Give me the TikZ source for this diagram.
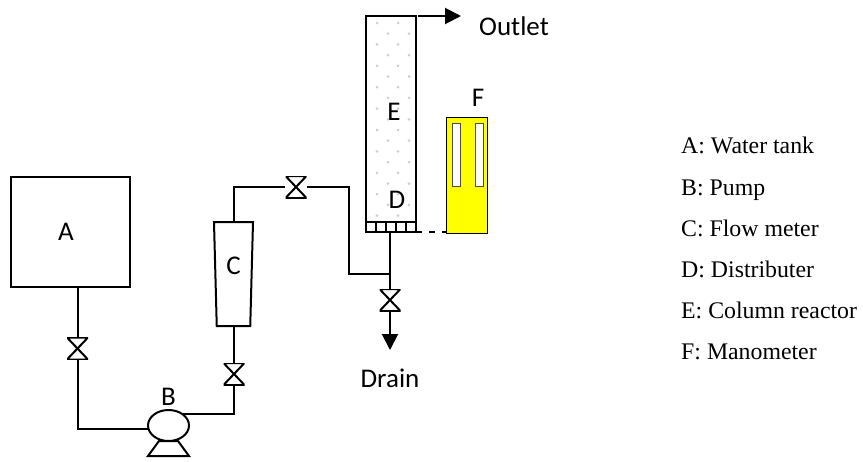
\documentclass[tikz,border=0pt]{standalone}
\usepackage{fontspec}
\setmainfont{Liberation Serif}
\newfontfamily\labelfont{Carlito}
\usetikzlibrary{calc,arrows.meta,shapes.geometric}
\definecolor{manoyellow}{HTML}{FFFF00}
\definecolor{packdot}{HTML}{CFCFCF}
\tikzset{
  pipe/.style={line width=2pt},
  unitbox/.style={draw, line width=2pt, inner sep=0pt, outer sep=0pt},
  taper/.style={draw, line width=2pt, trapezium, inner sep=1pt, outer sep=0pt, trapezium stretches=true},
  valve/.style={minimum width=21pt, minimum height=22pt, inner sep=0pt,
    path picture={\draw[line width=2pt]
      (path picture bounding box.north west) -- (path picture bounding box.north east)
      -- (path picture bounding box.south west) -- (path picture bounding box.south east)
      -- cycle;}},
  unitlabel/.style={font=\labelfont\fontsize{27}{27}\selectfont, inner sep=0pt},
  legendlabel/.style={font=\fontsize{23.8}{26}\selectfont, anchor=base west, inner sep=0pt},
  flowtip/.style={-{Triangle[length=16pt,width=16pt]}}
}
\begin{document}
\begin{tikzpicture}[x=1pt,y=-1pt]
  \useasboundingbox (0,0) rectangle (863,461);
  \node[unitbox, minimum width=119pt, minimum height=110pt] (tank) at (70.5,232) {};
  \node[valve] (valveA) at (77.5,348.5) {};
  \node[unitbox, ellipse, minimum width=41pt, minimum height=31pt] (pump) at (168.5,425.5) {};
  \node[taper, trapezium left angle=60, trapezium right angle=60,
    minimum width=41pt, minimum height=15pt] (pumpbase) at (168.5,448.5) {};
  \node[valve] (valveB) at (234,374) {};
  \node[taper, shape border rotate=180, trapezium left angle=85.3, trapezium right angle=85.3,
    minimum width=39pt, minimum height=104pt] (meter) at (233.5,274) {};
  \node[valve] (valveC) at (296,187) {};
  \node[unitbox, minimum width=50pt, minimum height=216pt] (column) at (391,124) {};
  \foreach \row in {0,...,19}{
    \pgfmathsetmacro{\dotshift}{mod(\row,2)*11}
    \foreach \col in {0,1}{
      \fill[packdot] (377+\dotshift+21*\col,23+10.7*\row) circle (1.5pt);
    }
  }
  \node[unitbox, fill=white, minimum width=50pt, minimum height=10pt] (distributer) at (391,227) {};
  \foreach \tick in {1,...,4}{
    \draw[pipe] ($(distributer.north west)+(10*\tick,0)$) -- ($(distributer.south west)+(10*\tick,0)$);
  }
  \node[draw, line width=1pt, outer sep=0pt, fill=manoyellow, minimum width=41pt, minimum height=116pt, inner sep=0pt] (manometer) at (466.5,175) {};
  \node[draw=black!70, line width=1pt, fill=white, minimum width=8pt, minimum height=63pt, inner sep=0pt] (limbL) at (456,154.5) {};
  \node[draw=black!70, line width=1pt, fill=white, minimum width=8pt, minimum height=63pt, inner sep=0pt] (limbR) at (479.5,154.5) {};
  \node[valve] (valveD) at (390,300) {};
  \coordinate (outletend) at (461,16);
  \coordinate (drainend) at (390,350);
  \coordinate (teeD) at (390,274);

  \draw[pipe] (tank.south -| valveA) -- (valveA);
  \draw[pipe] (valveA) |- (pump.190);
  \draw[pipe] (pump.40) -| (valveB);
  \draw[pipe] (valveB) -- (valveB |- meter.south);
  \draw[pipe] (meter.north) |- (valveC);
  \draw[pipe] (valveC) -| (349,274) -- (teeD);
  \draw[pipe] (distributer.south -| teeD) -- (valveD);
  \draw[pipe, flowtip] (valveD) -- (drainend);
  \draw[pipe, flowtip, shorten <=2pt] (column.north east) -- (outletend);
  \draw[pipe, dash pattern=on 6pt off 7pt] (distributer.south east) -- (distributer.south east -| manometer.west);

  \node[unitlabel] (labelA) at (66,232) {A};
  \node[unitlabel] (labelB) at (168.5,397) {B};
  \node[unitlabel] (labelC) at (233.5,266) {C};
  \node[unitlabel] (labelD) at (397,200) {D};
  \node[unitlabel] (labelE) at (394,112) {E};
  \node[unitlabel] (labelF) at (478,98) {F};
  \node[unitlabel] (labelOutlet) at (514,26) {Outlet};
  \node[unitlabel] (labelDrain) at (390,378) {Drain};

  \node[legendlabel] (legendA) at (681,153.5) {A: Water tank};
  \node[legendlabel] (legendB) at (681,195) {B: Pump};
  \node[legendlabel] (legendC) at (681,236) {C: Flow meter};
  \node[legendlabel] (legendD) at (681,277.5) {D: Distributer};
  \node[legendlabel] (legendE) at (681,318.5) {E: Column reactor};
  \node[legendlabel] (legendF) at (681,359.5) {F: Manometer};
\end{tikzpicture}
\end{document}
